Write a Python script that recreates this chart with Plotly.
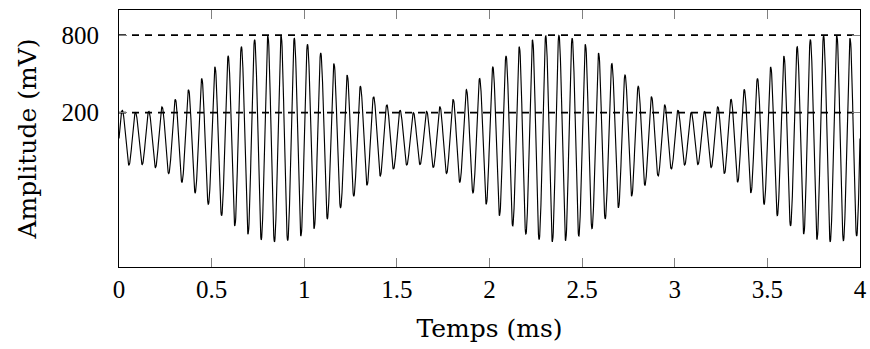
import numpy as np
import plotly.graph_objects as go

# Signal parameters (AM-like beat signal)
carrier_khz = 14.0           # carrier cycles per ms
envelope_period_ms = 1.5     # time between envelope maxima
envelope_min_time_ms = 0.1   # time of first envelope minimum
amp_min_mv = 200.0           # smallest peak amplitude
amp_max_mv = 800.0           # largest peak amplitude
t_start_ms, t_end_ms, n_samples = 0.0, 4.0, 2400

# Reference levels (dashed lines)
ref_levels_mv = [200, 800]

# Axis ticks
x_tick_vals = [0, 0.5, 1, 1.5, 2, 2.5, 3, 3.5, 4]
x_tick_text = ["0", "0.5", "1", "1.5", "2", "2.5", "3", "3.5", "4"]
y_tick_vals = [200, 800]
y_tick_text = ["200", "800"]

t = np.linspace(t_start_ms, t_end_ms, n_samples)
mid = (amp_max_mv + amp_min_mv) / 2
half = (amp_max_mv - amp_min_mv) / 2
envelope = mid - half * np.cos(2 * np.pi * (t - envelope_min_time_ms) / envelope_period_ms)
signal = envelope * np.sin(2 * np.pi * carrier_khz * t)

fig = go.Figure()
fig.add_trace(go.Scatter(x=t, y=signal, mode="lines",
                         line=dict(color="black", width=1.15),
                         showlegend=False, hoverinfo="skip"))
for lvl in ref_levels_mv:
    fig.add_trace(go.Scatter(x=[t_start_ms, t_end_ms], y=[lvl, lvl], mode="lines",
                             line=dict(color="black", width=1.8, dash="7px,6px"),
                             showlegend=False, hoverinfo="skip"))

tick_font = dict(family="Liberation Serif", size=25, color="black")
title_font = dict(family="DejaVu Serif", size=25, color="black")

fig.update_layout(
    width=870, height=349,
    margin=dict(l=119, r=10, t=10, b=82),
    paper_bgcolor="white", plot_bgcolor="white",
    xaxis=dict(range=[0, 4], tickvals=x_tick_vals, ticktext=x_tick_text,
               ticks="inside", ticklen=9, tickcolor="#808080", tickwidth=1,
               showline=True, linecolor="black", linewidth=1, mirror="allticks",
               showgrid=False, zeroline=False, tickfont=tick_font, automargin=False,
               title=dict(text="Temps (ms)", font=title_font, standoff=17)),
    yaxis=dict(range=[-994, 994], tickvals=y_tick_vals, ticktext=y_tick_text,
               ticks="inside", ticklen=8, tickcolor="#808080", tickwidth=1,
               showline=True, linecolor="black", linewidth=1, mirror="allticks",
               showgrid=False, zeroline=False, tickfont=tick_font, automargin=False,
               ticklabelstandoff=14,
               title=dict(text="Amplitude (mV)", font=title_font, standoff=17)),
)

fig.write_html("out.html", config={"displayModeBar": False},
               post_script="document.body.style.margin='0';")
